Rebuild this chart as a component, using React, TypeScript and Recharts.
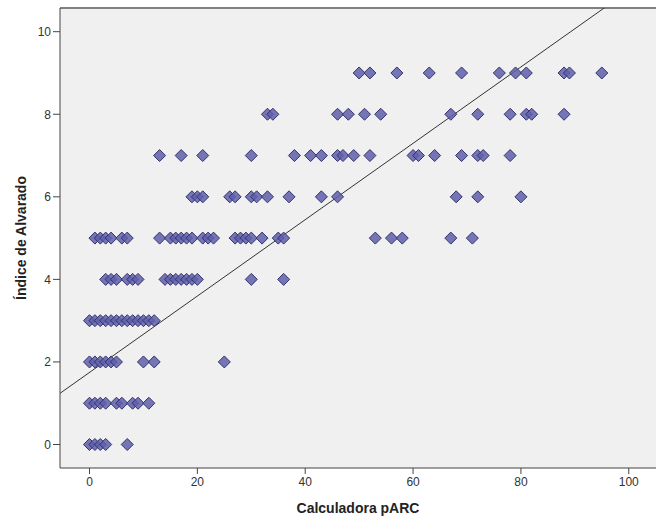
import React from 'react';
import { ScatterChart, Scatter, XAxis, YAxis, CartesianGrid, ReferenceLine } from 'recharts';

// pARC scores grouped by Alvarado index value
const alvarado0 = [0, 1, 2, 3, 7];
const alvarado1 = [0, 1, 2, 3, 5, 6, 8, 9, 11];
const alvarado2 = [0, 1, 2, 3, 4, 5, 10, 12, 25];
const alvarado3 = [0, 1, 2, 3, 4, 5, 6, 7, 8, 9, 10, 11, 12];
const alvarado4 = [3, 4, 5, 7, 8, 9, 14, 15, 16, 17, 18, 19, 20, 30, 36];
const alvarado5 = [1, 2, 3, 4, 6, 7, 13, 15, 16, 17, 18, 19, 21, 22, 23, 27, 28, 29, 30, 32, 35, 36, 53, 56, 58, 67, 71];
const alvarado6 = [19, 20, 21, 26, 27, 30, 31, 33, 37, 43, 46, 68, 72, 80];
const alvarado7 = [13, 17, 21, 30, 38, 41, 43, 46, 47, 49, 52, 60, 61, 64, 69, 72, 73, 78];
const alvarado8 = [33, 34, 46, 48, 51, 54, 67, 72, 78, 81, 82, 88];
const alvarado9 = [50, 52, 57, 63, 69, 76, 79, 81, 88, 89, 95];

const xTicks = [0, 20, 40, 60, 80, 100];
const yTicks = [0, 2, 4, 6, 8, 10];

// linear fit
const fitIntercept = 1.746;
const fitSlope = 0.0925;

const X_MIN = -5.47;
const X_MAX = 105.05;
const Y_MIN = -0.569;
const Y_MAX = 10.574;

const groups = [alvarado0, alvarado1, alvarado2, alvarado3, alvarado4, alvarado5, alvarado6, alvarado7, alvarado8, alvarado9];
const points = groups.flatMap((xs, score) => xs.map((x) => ({ x, y: score })));

const Diamond = (props: any) => {
  const { cx, cy } = props;
  const r = 6;
  return (
    <polygon
      points={`${cx},${cy - r} ${cx + r},${cy} ${cx},${cy + r} ${cx - r},${cy}`}
      fill="#5F5FAA"
      fillOpacity={0.85}
      stroke="#33336F"
      strokeWidth={1}
    />
  );
};

const font = 'Arial, "Liberation Sans", sans-serif';

export default function App() {
  return (
    <div style={{ position: 'absolute', left: 0, top: 0, background: '#fff' }}>
      <ScatterChart width={656} height={516} margin={{ top: 8, right: 0, bottom: 0, left: 0 }}>
        <CartesianGrid fill="#F0F0F0" horizontal={false} vertical={false} />
        <XAxis
          type="number"
          dataKey="x"
          domain={[X_MIN, X_MAX]}
          allowDataOverflow
          ticks={xTicks}
          height={48}
          tickSize={6}
          tickMargin={3}
          stroke="#444"
          tick={{ fill: '#333', fontSize: 12, fontFamily: font }}
          label={{ value: 'Calculadora pARC', position: 'insideBottom', offset: 3, fill: '#222', fontSize: 14, fontWeight: 'bold', fontFamily: font }}
        />
        <YAxis
          type="number"
          dataKey="y"
          domain={[Y_MIN, Y_MAX]}
          allowDataOverflow
          ticks={yTicks}
          width={60}
          tickSize={7}
          tickMargin={2}
          stroke="#444"
          tick={{ fill: '#333', fontSize: 12, fontFamily: font }}
          label={{ value: 'Índice de Alvarado', angle: -90, position: 'insideLeft', offset: 21, fill: '#222', fontSize: 14, fontWeight: 'bold', fontFamily: font, style: { textAnchor: 'middle' } }}
        />
        <ReferenceLine y={Y_MAX} stroke="#808080" strokeWidth={2} />
        <ReferenceLine
          ifOverflow="hidden"
          segment={[
            { x: X_MIN, y: fitIntercept + fitSlope * X_MIN },
            { x: X_MAX, y: fitIntercept + fitSlope * X_MAX },
          ]}
          stroke="#333"
          strokeWidth={1}
        />
        <Scatter data={points} shape={Diamond} isAnimationActive={false} />
      </ScatterChart>
    </div>
  );
}
